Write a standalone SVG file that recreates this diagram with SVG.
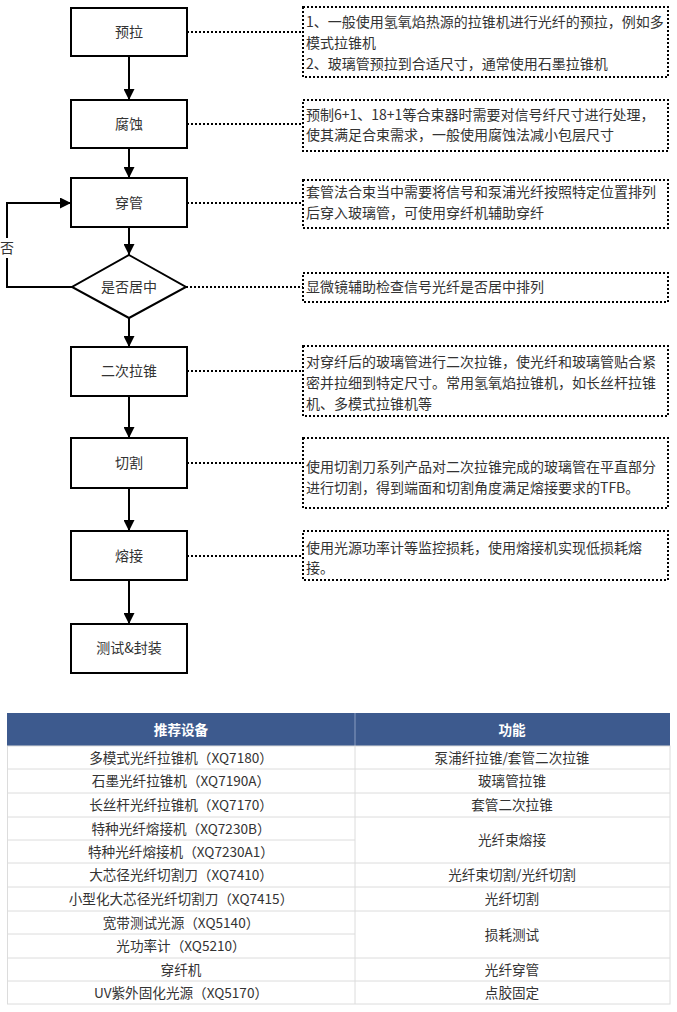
<svg xmlns="http://www.w3.org/2000/svg" width="677" height="1012" viewBox="0 0 677 1012">
<defs>
<marker id="ah" markerWidth="11" markerHeight="11" refX="11" refY="5.5" orient="auto" markerUnits="userSpaceOnUse">
<path d="M0,0 L11,5.5 L0,11 Z" fill="#000"/>
</marker>
<style>
.box{fill:#fff;stroke:#000;stroke-width:2}
.bt{font-family:"Noto Sans CJK SC","Noto Sans",sans-serif;font-size:14px;fill:#333;text-anchor:middle}
.note{fill:#fff;stroke:#000;stroke-width:2;stroke-dasharray:2 2}
.nt{font-family:"Noto Sans CJK SC","Noto Sans",sans-serif;font-size:14px;fill:#333}
.ln{fill:none;stroke:#000;stroke-width:2}
.dot{fill:none;stroke:#000;stroke-width:2;stroke-dasharray:2 2}
.tt{font-family:"Noto Sans CJK SC","Noto Sans",sans-serif;font-size:13.6px;fill:#333;text-anchor:middle}
.th{font-family:"Noto Sans CJK SC","Noto Sans",sans-serif;font-size:13.6px;font-weight:bold;fill:#fff;text-anchor:middle}
.grid{stroke:#dcdcdc;stroke-width:1;fill:none}
</style>
</defs>
<rect width="677" height="1012" fill="#fff"/>

<g id="connectors">
<line class="ln" x1="129" y1="56" x2="129" y2="100" marker-end="url(#ah)"/>
<line class="ln" x1="129" y1="148" x2="129" y2="178" marker-end="url(#ah)"/>
<line class="ln" x1="129" y1="227" x2="129" y2="255" marker-end="url(#ah)"/>
<line class="ln" x1="129" y1="318" x2="129" y2="347" marker-end="url(#ah)"/>
<line class="ln" x1="129" y1="396" x2="129" y2="438" marker-end="url(#ah)"/>
<line class="ln" x1="129" y1="488" x2="129" y2="531" marker-end="url(#ah)"/>
<line class="ln" x1="129" y1="580" x2="129" y2="624" marker-end="url(#ah)"/>
<polyline class="ln" points="72,287 7,287 7,203 71,203" marker-end="url(#ah)"/>
<rect x="0" y="238" width="14" height="20" fill="#fff"/>
<text class="bt" x="7" y="253">否</text>
<line class="dot" x1="187" y1="32" x2="303" y2="32"/>
<line class="dot" x1="187" y1="124" x2="303" y2="124"/>
<line class="dot" x1="187" y1="203" x2="303" y2="203"/>
<line class="dot" x1="186" y1="287" x2="303" y2="287"/>
<line class="dot" x1="187" y1="371" x2="303" y2="371"/>
<line class="dot" x1="187" y1="463" x2="303" y2="463"/>
<line class="dot" x1="187" y1="556" x2="303" y2="556"/>
</g>

<g id="n1"><rect class="box" x="71" y="8" width="116" height="48"/><text class="bt" x="129" y="37">预拉</text></g>
<g id="n2"><rect class="box" x="71" y="100" width="116" height="48"/><text class="bt" x="129" y="129">腐蚀</text></g>
<g id="n3"><rect class="box" x="71" y="178" width="116" height="49"/><text class="bt" x="129" y="208">穿管</text></g>
<g id="n4"><polygon class="box" points="129,255 186,287 129,318 72,287"/><text class="bt" x="129" y="292">是否居中</text></g>
<g id="n5"><rect class="box" x="71" y="347" width="116" height="49"/><text class="bt" x="129" y="376">二次拉锥</text></g>
<g id="n6"><rect class="box" x="71" y="438" width="116" height="50"/><text class="bt" x="129" y="468">切割</text></g>
<g id="n7"><rect class="box" x="71" y="531" width="116" height="49"/><text class="bt" x="129" y="561">熔接</text></g>
<g id="n8"><rect class="box" x="71" y="624" width="116" height="49"/><text class="bt" x="129" y="653">测试&amp;封装</text></g>

<g id="note1"><rect class="note" x="303" y="7" width="365" height="70"/>
<text class="nt" x="306" y="27">1、一般使用氢氧焰热源的拉锥机进行光纤的预拉，例如多</text>
<text class="nt" x="306" y="48">模式拉锥机</text>
<text class="nt" x="306" y="69">2、玻璃管预拉到合适尺寸，通常使用石墨拉锥机</text></g>
<g id="note2"><rect class="note" x="303" y="100" width="365" height="51"/>
<text class="nt" x="306" y="120">预制6+1、18+1等合束器时需要对信号纤尺寸进行处理，</text>
<text class="nt" x="306" y="140">使其满足合束需求，一般使用腐蚀法减小包层尺寸</text></g>
<g id="note3"><rect class="note" x="303" y="180" width="365" height="48"/>
<text class="nt" x="306" y="197">套管法合束当中需要将信号和泵浦光纤按照特定位置排列</text>
<text class="nt" x="306" y="218">后穿入玻璃管，可使用穿纤机辅助穿纤</text></g>
<g id="note4"><rect class="note" x="303" y="273" width="365" height="29"/>
<text class="nt" x="306" y="292">显微镜辅助检查信号光纤是否居中排列</text></g>
<g id="note5"><rect class="note" x="303" y="346" width="365" height="70"/>
<text class="nt" x="306" y="367">对穿纤后的玻璃管进行二次拉锥，使光纤和玻璃管贴合紧</text>
<text class="nt" x="306" y="388">密并拉细到特定尺寸。常用氢氧焰拉锥机，如长丝杆拉锥</text>
<text class="nt" x="306" y="409">机、多模式拉锥机等</text></g>
<g id="note6"><rect class="note" x="303" y="438" width="365" height="70"/>
<text class="nt" x="306" y="472">使用切割刀系列产品对二次拉锥完成的玻璃管在平直部分</text>
<text class="nt" x="306" y="493">进行切割，得到端面和切割角度满足熔接要求的TFB。</text></g>
<g id="note7"><rect class="note" x="303" y="531" width="365" height="49"/>
<text class="nt" x="306" y="553">使用光源功率计等监控损耗，使用熔接机实现低损耗熔</text>
<text class="nt" x="306" y="573">接。</text></g>

<g id="table">
<rect x="7" y="713" width="663" height="33" fill="#3d5a8e"/>
<line x1="355" y1="713" x2="355" y2="746" stroke="#8a9cc0" stroke-width="1"/>
<text class="th" x="181" y="735">推荐设备</text>
<text class="th" x="512" y="735">功能</text>
<rect class="grid" x="7.5" y="746" width="662.5" height="258"/>
<line class="grid" x1="355" y1="746" x2="355" y2="1004"/>
<line class="grid" x1="7" y1="769" x2="670" y2="769"/>
<line class="grid" x1="7" y1="793" x2="670" y2="793"/>
<line class="grid" x1="7" y1="817" x2="670" y2="817"/>
<line class="grid" x1="7" y1="840" x2="355" y2="840"/>
<line class="grid" x1="7" y1="863" x2="670" y2="863"/>
<line class="grid" x1="7" y1="887" x2="670" y2="887"/>
<line class="grid" x1="7" y1="911" x2="670" y2="911"/>
<line class="grid" x1="7" y1="934" x2="355" y2="934"/>
<line class="grid" x1="7" y1="958" x2="670" y2="958"/>
<line class="grid" x1="7" y1="981" x2="670" y2="981"/>
<text class="tt" x="181" y="763">多模式光纤拉锥机（XQ7180）</text>
<text class="tt" x="181" y="786">石墨光纤拉锥机（XQ7190A）</text>
<text class="tt" x="181" y="810">长丝杆光纤拉锥机（XQ7170）</text>
<text class="tt" x="181" y="834">特种光纤熔接机（XQ7230B）</text>
<text class="tt" x="181" y="857">特种光纤熔接机（XQ7230A1）</text>
<text class="tt" x="181" y="880">大芯径光纤切割刀（XQ7410）</text>
<text class="tt" x="181" y="904">小型化大芯径光纤切割刀（XQ7415）</text>
<text class="tt" x="181" y="928">宽带测试光源（XQ5140）</text>
<text class="tt" x="181" y="951">光功率计（XQ5210）</text>
<text class="tt" x="181" y="975">穿纤机</text>
<text class="tt" x="181" y="998">UV紫外固化光源（XQ5170）</text>
<text class="tt" x="512" y="763">泵浦纤拉锥/套管二次拉锥</text>
<text class="tt" x="512" y="786">玻璃管拉锥</text>
<text class="tt" x="512" y="810">套管二次拉锥</text>
<text class="tt" x="512" y="845">光纤束熔接</text>
<text class="tt" x="512" y="880">光纤束切割/光纤切割</text>
<text class="tt" x="512" y="904">光纤切割</text>
<text class="tt" x="512" y="940">损耗测试</text>
<text class="tt" x="512" y="975">光纤穿管</text>
<text class="tt" x="512" y="998">点胶固定</text>
</g>
</svg>
